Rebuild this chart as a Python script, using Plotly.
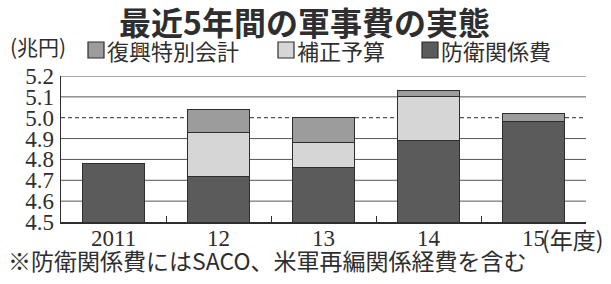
import plotly.graph_objects as go

years = ["2011", "12", "13", "14", "15"]
defense = [4.78, 4.72, 4.76, 4.89, 4.98]
supplementary = [0.0, 0.21, 0.12, 0.21, 0.0]
reconstruction = [0.0, 0.11, 0.12, 0.03, 0.04]
y_ticks = [4.5, 4.6, 4.7, 4.8, 4.9, 5.0, 5.1, 5.2]
y_tick_labels = ["4.5", "4.6", "4.7", "4.8", "4.9", "5.0", "5.1", "5.2"]
series_names = ["防衛関係費", "補正予算", "復興特別会計"]
series_colors = ["#5b5b5b", "#d6d6d6", "#9c9c9c"]

JP = "Noto Sans CJK JP"
SERIF = "Liberation Serif"
INK = "#2e2e2e"

W, H = 611, 284
L, R, T, B = 61, 25, 76, 62
PW, PH = W - L - R, H - T - B


def px(xp):
    return (xp - L) / PW


def py(yp):
    return (H - B - yp) / PH


fig = go.Figure()
for name, vals, col in zip(series_names, [defense, supplementary, reconstruction], series_colors):
    fig.add_trace(go.Bar(name=name, x=years, y=vals, showlegend=False, hoverinfo="skip",
                         marker=dict(color=col, line=dict(color=INK, width=1.2))))

shapes = []
for v in y_ticks[1:]:
    shapes.append(dict(type="line", xref="paper", x0=0, x1=1, yref="y", y0=v, y1=v,
                       layer="below",
                       line=dict(color="#555", width=1.2 if v == 5.0 else 1,
                                 dash="4px,3px" if v == 5.0 else "solid")))

annotations = [
    dict(text="<b>最近5年間の軍事費の実態</b>", xref="paper", yref="paper",
         x=px(304), y=py(21), xanchor="center", yanchor="middle",
         showarrow=False, font=dict(family=JP, size=32, color=INK)),
    dict(text="(兆円)", xref="paper", yref="paper", x=px(8), y=py(46),
         xanchor="left", yanchor="middle", showarrow=False,
         font=dict(family=JP, size=21, color=INK)),
    dict(text="(年度)", xref="paper", yref="paper", x=px(540), y=py(239),
         xanchor="left", yanchor="middle", showarrow=False,
         font=dict(family=JP, size=23, color=INK)),
    dict(text="※防衛関係費にはSACO、米軍再編関係経費を含む", xref="paper", yref="paper",
         x=px(6), y=py(260), xanchor="left", yanchor="middle",
         showarrow=False, font=dict(family=JP, size=23, color=INK)),
]

# x category labels placed on the category axis (by category index)
for i, yr in enumerate(years):
    annotations.append(dict(text=yr, xref="x", yref="paper", x=i, y=py(238),
                            xanchor="center", yanchor="middle", showarrow=False,
                            font=dict(family=SERIF, size=23, color=INK)))

# manual legend (reference order: 復興特別会計, 補正予算, 防衛関係費)
legend_items = [(series_names[2], series_colors[2], 88),
                (series_names[1], series_colors[1], 278),
                (series_names[0], series_colors[0], 422)]
for name, col, x0 in legend_items:
    shapes.append(dict(type="rect", xref="paper", yref="paper",
                       x0=px(x0), x1=px(x0 + 16), y0=py(58), y1=py(42),
                       fillcolor=col, line=dict(color=INK, width=1.2)))
    annotations.append(dict(text=name, xref="paper", yref="paper", x=px(x0 + 17), y=py(50),
                            xanchor="left", yanchor="middle", showarrow=False,
                            font=dict(family=JP, size=22, color=INK)))

fig.update_layout(
    width=W, height=H,
    margin=dict(l=L, r=R, t=T, b=B, autoexpand=False),
    paper_bgcolor="white", plot_bgcolor="white",
    barmode="stack", bargap=0.41,
    showlegend=False,
    shapes=shapes,
    annotations=annotations,
    xaxis=dict(type="category", categoryorder="array", categoryarray=years,
               range=[-0.5, len(years) - 0.5],
               showline=True, linecolor=INK, linewidth=1.5,
               ticks="inside", tickson="boundaries", ticklen=6, tickcolor=INK,
               showticklabels=False, showgrid=False, automargin=False),
    yaxis=dict(range=[4.5, 5.2], tickvals=y_ticks, ticktext=y_tick_labels,
               showline=True, linecolor=INK, linewidth=1.5, showgrid=False,
               tickfont=dict(family=SERIF, size=23, color=INK), ticks="", ticklabelstandoff=1,
               zeroline=False, automargin=False),
    font=dict(family=JP, color=INK),
)
fig.write_html("out.html", config={"displayModeBar": False, "staticPlot": True})

with open("out.html", encoding="utf-8") as f:
    html = f.read()
html = html.replace("<body>", '<body style="margin:0;padding:0;overflow:hidden">', 1)
with open("out.html", "w", encoding="utf-8") as f:
    f.write(html)
